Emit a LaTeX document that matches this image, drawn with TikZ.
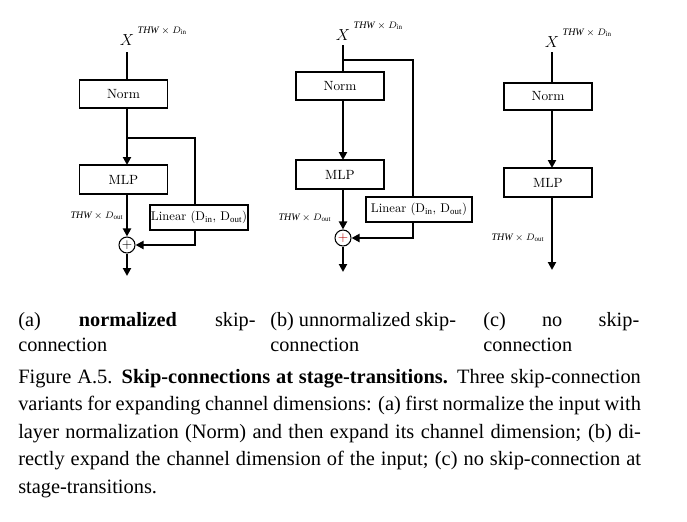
\documentclass[tikz,border=0pt]{standalone}
\usepackage{fontspec}
\setmainfont{Liberation Serif}
\usetikzlibrary{arrows.meta}
\newcommand{\lmf}{\fontfamily{lmr}\selectfont}
\begin{document}
\begin{tikzpicture}[x=0.75pt,y=-0.75pt,
  box/.style={draw,line width=1.2pt,inner sep=0pt,font=\lmf\fontsize{10}{11}\selectfont},
  ln/.style={line width=1.6pt},
  arr/.style={ln,-{Triangle[length=6pt,width=6pt]}},
  dim/.style={font=\fontsize{7.5}{8}\selectfont},
  xl/.style={font=\fontsize{12}{13}\selectfont},
  subcap/.style={anchor=base west,inner sep=0pt,font=\fontsize{15.2}{17}\selectfont}]
\useasboundingbox (0,0) rectangle (687,522);
% (a)
\node[xl] (xa) at (127,40) {$X$};
\node[dim,anchor=west] at (133,31) {$\mathit{THW}\times D_{\mathrm{in}}$};
\node[box,minimum width=66pt,minimum height=21pt] (na) at (123.5,94) {Norm};
\node[box,minimum width=66pt,minimum height=22pt] (ma) at (123.5,179.5) {MLP};
\node[box,minimum width=73.5pt,minimum height=19pt,font=\lmf\fontsize{9.5}{10}\selectfont] (la) at (199,217.5) {Linear (D$_{\mathrm{in}}$, D$_{\mathrm{out}}$)};
\node[draw,circle,line width=0.8pt,minimum size=12pt,inner sep=0pt] (pa) at (127,245) {$+$};
\node[dim] at (97,216) {$\mathit{THW}\times D_{\mathrm{out}}$};
\coordinate (ea) at (127,276);
\draw[ln] (127,52) -- (127,80);
\draw[arr] (127,108) -- (127,165);
\draw[ln] (127,138) -| (195,205);
\draw[arr] (127,194) -- (pa.north);
\draw[arr] (195,230) |- (pa.east);
\draw[arr] (pa.south) -- (ea);
% (b)
\node[xl] (xb) at (343,35) {$X$};
\node[dim,anchor=west] at (349,26) {$\mathit{THW}\times D_{\mathrm{in}}$};
\node[box,minimum width=66pt,minimum height=21pt] (nb) at (340,86) {Norm};
\node[box,minimum width=66pt,minimum height=22pt] (mb) at (340,174.5) {MLP};
\node[box,minimum width=79.5pt,minimum height=19pt,font=\lmf\fontsize{9.5}{10}\selectfont] (lb) at (419,209.5) {Linear (D$_{\mathrm{in}}$, D$_{\mathrm{out}}$)};
\node[draw,circle,line width=0.8pt,minimum size=12pt,inner sep=0pt,text=red!70!black] (pb) at (343,238) {$+$};
\node[dim] at (305,218) {$\mathit{THW}\times D_{\mathrm{out}}$};
\coordinate (eb) at (343,272);
\draw[ln] (343,45) -- (343,72);
\draw[ln] (343,60) -| (413,197);
\draw[arr] (343,100) -- (343,160);
\draw[arr] (343,189) -- (pb.north);
\draw[arr] (413,222) |- (pb.east);
\draw[arr] (pb.south) -- (eb);
% (c)
\node[xl] (xc) at (552,42) {$X$};
\node[dim,anchor=west] at (558,33) {$\mathit{THW}\times D_{\mathrm{in}}$};
\node[box,minimum width=66pt,minimum height=20pt] (nc) at (548,96.5) {Norm};
\node[box,minimum width=66pt,minimum height=22pt] (mc) at (548,182.5) {MLP};
\node[dim] at (518,238) {$\mathit{THW}\times D_{\mathrm{out}}$};
\coordinate (ec) at (552,270);
\draw[ln] (552,52) -- (552,83);
\draw[arr] (552,110) -- (552,168);
\draw[arr] (552,197) -- (ec);
% sub-captions
\node[subcap] at (18,326) {\makebox[178pt][s]{(a)\hfill\textbf{normalized}\hfill skip-}};
\node[subcap] at (18,351) {connection};
\node[subcap] at (270,326) {(b) unnormalized skip-};
\node[subcap] at (270,351) {connection};
\node[subcap] at (483,326) {\makebox[117pt][s]{(c)\hfill no\hfill skip-}};
\node[subcap] at (483,351) {connection};
% caption
\node[anchor=north west,inner sep=0pt,text width=467pt,align=justify,font=\fontsize{15.3}{20.6}\selectfont] at (18,369)
{Figure A.5. \textbf{Skip-connections at stage-transitions.} Three skip-connection variants for expanding channel dimensions: (a) first normalize the input with layer normalization (Norm) and then expand its channel dimension; (b) directly expand the channel dimension of the input; (c) no skip-connection at stage-transitions.};
\end{tikzpicture}
\end{document}
